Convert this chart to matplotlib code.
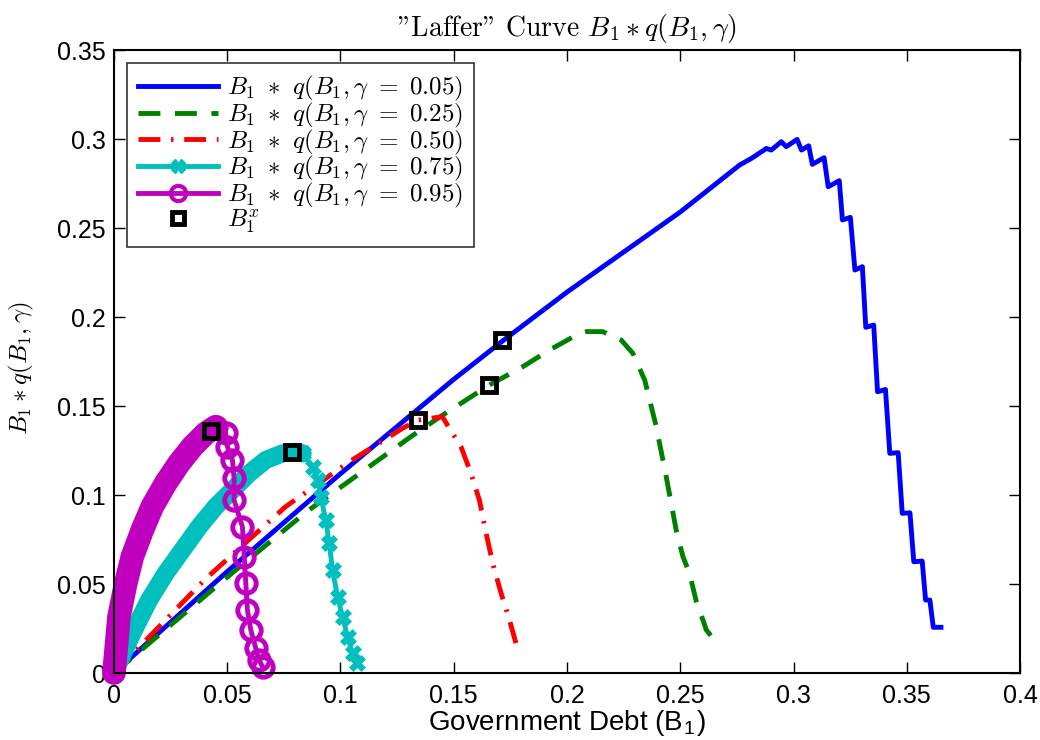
import numpy as np
import matplotlib
matplotlib.use("Agg")
import matplotlib.pyplot as plt
from matplotlib.lines import Line2D

plt.rcParams['font.family'] = ['Liberation Sans', 'DejaVu Sans']
plt.rcParams['mathtext.fontset'] = 'cm'

# gamma = 0.05
blue_x = [0, 0.01, 0.05, 0.1, 0.15, 0.172, 0.2, 0.25, 0.2762, 0.2814, 0.288, 0.2902, 0.2946, 0.2968,
          0.3016, 0.3035, 0.3067, 0.3083, 0.3135, 0.3153, 0.3202, 0.3216, 0.3251, 0.3271, 0.3304,
          0.3319, 0.3354, 0.3371, 0.3406, 0.3425, 0.3462, 0.3480, 0.3514, 0.3531, 0.3568, 0.3583,
          0.3602, 0.3617, 0.3651]
blue_y = [0, 0.0115, 0.057, 0.112, 0.165, 0.187, 0.214, 0.259, 0.2854, 0.2891, 0.2947, 0.2938, 0.2985,
          0.2957, 0.2998, 0.2938, 0.2962, 0.2858, 0.2895, 0.2732, 0.2766, 0.2545, 0.2560, 0.2264,
          0.2283, 0.1942, 0.1955, 0.1580, 0.1593, 0.1234, 0.1238, 0.0897, 0.0900, 0.0625, 0.0629,
          0.0410, 0.0410, 0.0257, 0.0257]

# gamma = 0.25
green_x = [0, 0.052, 0.0849, 0.1311, 0.1451, 0.1657, 0.1805, 0.1923, 0.2055, 0.2085, 0.2158, 0.2188,
           0.2239, 0.2291, 0.2343, 0.2394, 0.2438, 0.2482, 0.2512, 0.2541, 0.2571, 0.2600, 0.2615, 0.2674]
green_y = [0, 0.056, 0.0905, 0.1328, 0.1449, 0.1618, 0.1721, 0.1815, 0.1908, 0.1918, 0.1918, 0.1899,
           0.1871, 0.1796, 0.1646, 0.1384, 0.1103, 0.0803, 0.0653, 0.0560, 0.0401, 0.0298, 0.0242, 0.0148]

# gamma = 0.50
red_x = [0, 0.0405, 0.0758, 0.1039, 0.1274, 0.1344, 0.145, 0.1472, 0.1532, 0.1576, 0.1613, 0.1643,
         0.1672, 0.1709, 0.1746, 0.1783]
red_y = [0, 0.053, 0.0935, 0.1187, 0.1375, 0.1421, 0.144, 0.1393, 0.1271, 0.1122, 0.0972, 0.0785,
         0.0616, 0.0448, 0.0298, 0.0129]

# gamma = 0.75
cyan_up_x = [0, 0.0081, 0.0155, 0.0228, 0.0302, 0.0376, 0.0449, 0.0523, 0.0597, 0.067, 0.0744, 0.0803, 0.0833]
cyan_up_y = [0, 0.0223, 0.041, 0.056, 0.0691, 0.0822, 0.0935, 0.1028, 0.1122, 0.1197, 0.1234, 0.1243, 0.1234]
cyan_dn_x = [0.0833, 0.0877, 0.0899, 0.0913, 0.0935, 0.095, 0.0965, 0.0987, 0.1009, 0.1031, 0.1053, 0.1075]
cyan_dn_y = [0.1234, 0.1159, 0.1084, 0.099, 0.086, 0.0729, 0.0579, 0.0429, 0.0316, 0.0204, 0.011, 0.0054]

# gamma = 0.95
mag_up_x = [0, 0.0022, 0.0052, 0.0081, 0.0125, 0.0169, 0.0228, 0.0287, 0.0346, 0.0405, 0.0449]
mag_up_y = [0, 0.0316, 0.0504, 0.0654, 0.0803, 0.0935, 0.1066, 0.1178, 0.1272, 0.1347, 0.1384]
mag_dn_x = [0.0449, 0.0493, 0.0501, 0.0523, 0.053, 0.053, 0.0567, 0.0575, 0.0582, 0.0589, 0.0604,
            0.0626, 0.0641, 0.0656]
mag_dn_y = [0.1384, 0.1347, 0.1272, 0.1197, 0.1094, 0.0972, 0.0822, 0.0654, 0.0504, 0.0354, 0.0242,
            0.0139, 0.0073, 0.0035]

# B1^x points
bx_x = [0.1715, 0.1657, 0.1344, 0.0787, 0.0429]
bx_y = [0.187, 0.1618, 0.1421, 0.1242, 0.136]

xticks = [0, 0.05, 0.1, 0.15, 0.2, 0.25, 0.3, 0.35, 0.4]
xlabels = ['0', '0.05', '0.1', '0.15', '0.2', '0.25', '0.3', '0.35', '0.4']
yticks = [0, 0.05, 0.1, 0.15, 0.2, 0.25, 0.3, 0.35]
ylabels = ['0', '0.05', '0.1', '0.15', '0.2', '0.25', '0.3', '0.35']

LW = 3.5

fig = plt.figure(figsize=(10.4, 7.4), dpi=100)
ax = fig.add_axes([0.1096, 0.0905, 0.8712, 0.8419])

ax.plot(blue_x, blue_y, color='#0000ff', lw=LW)
ax.plot(green_x, green_y, color='#008000', lw=LW, dashes=(4.5, 3))
ax.plot(red_x, red_y, color='#ff0000', lw=LW, dashes=(4.5, 2.2, 0.5, 2.2))

# cyan: dense markers on the rising side form a thick band
ax.plot(cyan_up_x, cyan_up_y, color='#00bfbf', lw=13, solid_capstyle='round', clip_on=False)
ax.plot(cyan_dn_x, cyan_dn_y, color='#00bfbf', lw=LW, marker='X', ms=11, mew=0.5, clip_on=False)

ax.plot(mag_up_x, mag_up_y, color='#bf00bf', lw=17, solid_capstyle='round', clip_on=False)
ax.plot(mag_dn_x, mag_dn_y, color='#bf00bf', lw=LW, marker='o', ms=14, mfc='none', mew=3.5, clip_on=False)

ax.plot(bx_x, bx_y, ls='none', marker='s', ms=10, mfc='none', mec='black', mew=3.5, zorder=5)

ax.set_xlim(0, 0.4)
ax.set_ylim(0, 0.35)
ax.set_xticks(xticks)
ax.set_xticklabels(xlabels)
ax.set_yticks(yticks)
ax.set_yticklabels(ylabels)
ax.tick_params(direction='in', top=True, right=True, length=8, width=1, labelsize=18)
ax.tick_params(axis='x', pad=8)
ax.tick_params(axis='y', pad=6)
for s in ax.spines.values():
    s.set_linewidth(1.5)

ax.set_xlabel(r'Government Debt (B$_\mathregular{1}$)', fontsize=20, labelpad=0)
ax.set_ylabel(r'$B_1 * q(B_1, \gamma)$', fontsize=18)
ax.yaxis.set_label_coords(-0.086, 0.49)
ax.set_title('"Laffer" Curve $B_1 * q(B_1, \\gamma)$', fontsize=20, pad=10,
             family=['cmr10', 'DejaVu Serif'])

handles = [
    Line2D([], [], color='#0000ff', lw=LW),
    Line2D([], [], color='#008000', lw=LW, dashes=(4.5, 3)),
    Line2D([], [], color='#ff0000', lw=LW, dashes=(4.5, 2.2, 0.5, 2.2)),
    Line2D([], [], color='#00bfbf', lw=LW, marker='X', ms=10),
    Line2D([], [], color='#bf00bf', lw=LW, marker='o', ms=11, mfc='none', mew=3),
    Line2D([], [], ls='none', marker='s', ms=8, mfc='none', mec='black', mew=3.5),
]
labels = [r'$B_1\ *\ q(B_1, \gamma\ =\ 0.05)$', r'$B_1\ *\ q(B_1, \gamma\ =\ 0.25)$',
          r'$B_1\ *\ q(B_1, \gamma\ =\ 0.50)$', r'$B_1\ *\ q(B_1, \gamma\ =\ 0.75)$',
          r'$B_1\ *\ q(B_1, \gamma\ =\ 0.95)$', r'$B_1^x$']
leg = ax.legend(handles, labels, loc='upper left', bbox_to_anchor=(0.0144, 0.979),
                borderaxespad=0, fontsize=18, frameon=True, fancybox=False,
                edgecolor='black', handlelength=3.2, labelspacing=-0.1,
                handletextpad=0.35, borderpad=0.45)
leg.get_frame().set_linewidth(1.2)

fig.savefig('out.png', dpi=100)
